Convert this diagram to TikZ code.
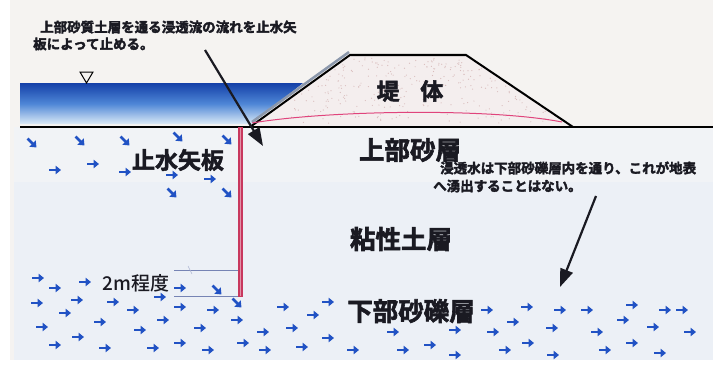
\documentclass[tikz,border=0pt]{standalone}
\usepackage{fontspec}
\newfontfamily\jp{Noto Sans CJK JP}
\newfontfamily\jpb{Noto Sans CJK JP Bold}
\newfontfamily\jpm{Noto Sans CJK JP Medium}
\usetikzlibrary{arrows.meta}
% heavier strokes for printed-looking labels (fill + stroke text mode)
\newcommand\heavy[2]{\special{pdf:literal direct 2 Tr #1 w}#2\special{pdf:literal direct 0 Tr}}
\definecolor{paper}{HTML}{F5F3F1}
\definecolor{soil}{HTML}{ECF0F6}
\definecolor{sandtop}{HTML}{F1F3F6}
\definecolor{dike}{HTML}{F4EEEE}
\definecolor{flowblue}{HTML}{2152C4}
\definecolor{waterdark}{HTML}{1440A8}
\definecolor{watermid}{HTML}{4E86D6}
\definecolor{waterlight}{HTML}{DCEAF6}
\definecolor{pile}{HTML}{C8385E}
\definecolor{seep}{HTML}{E0447C}
\definecolor{dimline}{HTML}{7684B4}
\definecolor{revet}{HTML}{8C98AC}
\definecolor{ink}{HTML}{1A1A22}
\tikzset{
  flow/.style={draw=flowblue, line width=2.8pt, -{Triangle[length=5.5pt,width=8.5pt]}},
  pointer/.style={draw=ink, line width=2.2pt, -{Triangle[length=18pt,width=13pt]}},
  note/.style={font=\jpb\fontsize{13.5}{16}\selectfont, text=ink, inner sep=0pt, anchor=west},
  layer/.style={font=\jpb\fontsize{25.5}{28}\selectfont, text=ink, inner sep=0pt},
}
\begin{document}
\begin{tikzpicture}[x=1pt, y=-1pt]
\useasboundingbox (0,0) rectangle (727,369);
% paper and soil body
\fill[white] (0,0) rectangle (727,369);
\fill[paper] (10,0) rectangle (713,360);
\fill[soil] (14,127) rectangle (713,360);
\fill[sandtop] (14,127) rectangle (713,182);
% water body with gradient
\shade[top color=waterdark, bottom color=waterlight, middle color=watermid]
  (20,83) -- (303,83) -- (252,124) -- (20,124) -- cycle;
% water level mark
\coordinate (wl) at (86.5,72);
\draw[line width=1pt] (wl) ++(-6.5,0) -- ++(13,0) -- ++(-6.5,11) -- cycle;
% embankment body
\fill[dike] (250,127) -- (350,55) -- (466,55) -- (573,127) -- cycle;
\pgfmathsetseed{7}
\foreach \i in {1,...,260}{
  \pgfmathsetmacro{\py}{rnd*66+58}
  \pgfmathsetmacro{\lx}{250+(127-\py)*100/72+4}
  \pgfmathsetmacro{\rx}{573-(127-\py)*107/72-4}
  \pgfmathsetmacro{\px}{\lx+rnd*(\rx-\lx)}
  \fill[black!25!pink!60!white] (\px,\py) circle (0.6pt);
}
% revetment band on the water-side slope
\draw[revet, line width=2.5pt] (252,122) -- (349,52);
\draw[line width=2pt] (250,127) -- (350,55) -- (466,55) -- (573,127);
% seepage line in the embankment
\draw[seep, line width=1pt] (252,123) .. controls (330,110) and (490,108) .. (562,122);
% ground surface
\draw[line width=2pt] (20,127) -- (713,127);
% cut-off sheet pile
\fill[pile] (238,127) rectangle (243,297);
\fill[pile!55!white] (239.8,128) rectangle (241.2,296);
% embedment depth marks
\draw[dimline, line width=0.8pt] (174,270) -- (238,270);
\draw[dimline, line width=0.8pt] (174,296) -- (238,296);
\draw[dimline!60, line width=0.5pt] (188,266) -- (192,274);
% seepage flow arrows in the upper sand layer
\foreach \x/\y in {32/143,80/141,125/141,178/137,227/140,172/193,227/193}
  \draw[flow] (\x-4.5,\y-4.5) -- (\x+4.5,\y+4.5);
\foreach \x/\y in {55/170,93/164,125/172,172/175,210/179}
  \draw[flow] (\x-6,\y) -- (\x+6,\y);
% flow arrows in the lower gravel layer
\foreach \x/\y in {217/290,237/303}
  \draw[flow] (\x-4.5,\y-4.5) -- (\x+4.5,\y+4.5);
\foreach \x/\y in {38/278,55/288,85/282,180/288,
  37/303,77/300,113/302,133/310,160/297,180/307,213/310,283/307,313/315,328/302,
  42/327,65/313,100/322,140/330,163/320,200/328,237/320,263/332,292/328,
  55/345,78/337,105/348,153/348,180/343,208/350,243/343,265/350,302/347,328/338,353/350,
  487/310,527/307,560/310,587/310,632/305,665/310,682/310,
  513/322,623/320,653/327,
  393/332,455/330,493/332,552/328,597/332,690/332,
  528/343,403/350,430/345,455/355,505/350,553/355,605/350,632/343,660/353}
  \draw[flow] (\x-6,\y) -- (\x+6,\y);
% labels
\node[note] (n1) at (40,27) {\heavy{0.35}{上部砂質土層を通る浸透流の流れを止水矢}};
\node[note] (n2) at (33,44) {\heavy{0.35}{板によって止める。}};
\node[note] (n3) at (440,168) {\heavy{0.35}{浸透水は下部砂礫層内を通り、これが地表}};
\node[note] (n4) at (433,186) {\heavy{0.35}{へ湧出することはない。}};
\node[font=\jpb\fontsize{23}{26}\selectfont, text=ink, inner sep=0pt] (body) at (410,91) {\heavy{0.5}{堤\hspace{0.9em}体}};
\node[font=\jpb\fontsize{23}{26}\selectfont, text=ink, inner sep=0pt] (pilelbl) at (178,160) {\heavy{0.5}{止水矢板}};
\node[layer] (upper) at (410,150) {\heavy{0.6}{上部砂層}};
\node[layer] (clay) at (401,239) {\heavy{0.6}{粘性土層}};
\node[layer] (gravel) at (411,311) {\heavy{0.6}{下部砂礫層}};
\node[font=\jpm\fontsize{19}{22}\selectfont, text=ink, inner sep=0pt] (depth) at (136,283) {2m程度};
% leader arrows
\coordinate (p1s) at (205,50);
\coordinate (p1e) at (263,146);
\coordinate (p2s) at (596,196);
\coordinate (p2e) at (560,287);
\draw[pointer] (p1s) -- (p1e);
\draw[pointer] (p2s) -- (p2e);
\end{tikzpicture}
\end{document}
